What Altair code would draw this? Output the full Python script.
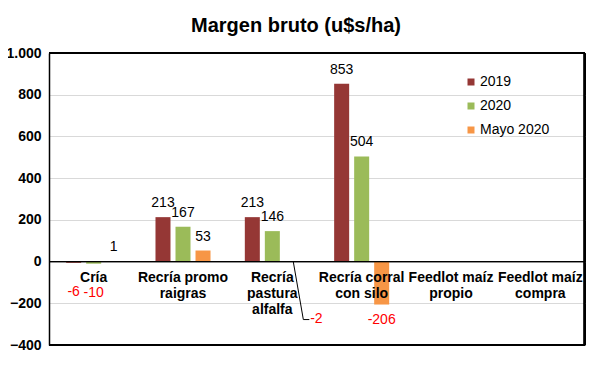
import altair as alt
import pandas as pd

FONT = "Liberation Sans, Arial, Helvetica, sans-serif"

categories = ["Cría", "Recría promo raigras", "Recría pastura alfalfa",
              "Recría corral con silo", "Feedlot maíz propio", "Feedlot maíz compra"]
category_labels = ["Cría", "Recría promo\nraigras", "Recría\npastura\nalfalfa",
                   "Recría corral\ncon silo", "Feedlot maíz\npropio", "Feedlot maíz\ncompra"]
series = ["2019", "2020", "Mayo 2020"]
colors = ["#953735", "#9BBB59", "#F79646"]
v2019 = [-6, 213, 213, 853, None, None]
v2020 = [-10, 167, 146, 504, None, None]
vmayo = [1, 53, -2, -206, None, None]
y_ticks = [-400, -200, 0, 200, 400, 600, 800, 1000]

rows = []
for s, vals in zip(series, [v2019, v2020, vmayo]):
    for c, v in zip(categories, vals):
        if v is not None:
            rows.append({"cat": c, "series": s, "value": v, "txt": str(v)})
df = pd.DataFrame(rows)
labels_df = pd.DataFrame({"cat": categories, "label": category_labels})

xenc = alt.X("cat:N", scale=alt.Scale(domain=categories, paddingInner=0.328, paddingOuter=0.164),
             axis=None)
xoff = alt.XOffset("series:N", scale=alt.Scale(domain=series, paddingInner=0.25, paddingOuter=0.125))
yenc = alt.Y("value:Q",
             scale=alt.Scale(domain=[-400, 1000], nice=False),
             axis=alt.Axis(values=y_ticks, title=None, ticks=False, domain=True,
                           domainColor="black", domainWidth=1.5,
                           labelFont=FONT, labelFontSize=14, labelFontWeight="bold",
                           labelColor="black", labelPadding=8, gridColor="#D9D9D9",
                           labelExpr="datum.value == 1000 ? '1.000' : datum.label"))

bars = alt.Chart(df).mark_bar().encode(
    x=xenc, xOffset=xoff, y=yenc,
    color=alt.Color("series:N", scale=alt.Scale(domain=series, range=colors),
                    legend=alt.Legend(orient="none", legendX=415, legendY=22, title=None,
                                      symbolType="square", symbolSize=49, symbolStrokeWidth=0,
                                      labelFont=FONT, labelFontSize=14, labelColor="black",
                                      rowPadding=10, labelOffset=2, padding=0,
                                      labelExpr="datum.label == 'Mayo 2020' ? ' Mayo 2020' : datum.label")),
)

pos_labels = alt.Chart(df).transform_filter("datum.value >= 0").mark_text(
    font=FONT, fontSize=14, color="black", baseline="alphabetic", dy=-10
).encode(x=xenc, xOffset=xoff, y=alt.Y("value:Q"), text="txt:N")

neg_cria = alt.Chart(df).transform_filter("datum.value < 0 && datum.cat == 'Cría'").mark_text(
    font=FONT, fontSize=14, color="#FF0000", baseline="middle", dy=29
).encode(x=xenc, xOffset=xoff, y=alt.Y("value:Q"), text="txt:N")

neg_silo = alt.Chart(df).transform_filter("datum.value < 0 && datum.cat == 'Recría corral con silo'").mark_text(
    font=FONT, fontSize=14, color="#FF0000", baseline="middle", dy=15
).encode(x=xenc, xOffset=xoff, y=alt.Y("value:Q"), text="txt:N")

neg_alf = alt.Chart(df).transform_filter("datum.value < 0 && datum.cat == 'Recría pastura alfalfa'").mark_text(
    font=FONT, fontSize=14, color="#FF0000", baseline="middle", dy=57, dx=24
).encode(x=xenc, xOffset=xoff, y=alt.Y("value:Q"), text="txt:N")

leader_df = df[(df.cat == "Recría pastura alfalfa") & (df.series == "Mayo 2020")]
leader1 = alt.Chart(leader_df).mark_rule(color="black", strokeWidth=1, xOffset=21, x2Offset=31).encode(
    x=xenc, x2=alt.X2("cat:N"), y=alt.Y("value:Q"), y2=alt.Y2(datum=-278)
)
leader2 = alt.Chart(leader_df).mark_rule(color="black", strokeWidth=1, xOffset=31, x2Offset=37).encode(
    x=xenc, x2=alt.X2("cat:N"), y=alt.Y(datum=-278)
)

zero = alt.Chart(labels_df).mark_rule(color="black", strokeWidth=1).encode(y=alt.Y(datum=0))
top_edge = alt.Chart(labels_df).mark_rule(color="black", strokeWidth=1.5).encode(y=alt.Y(datum=1000))
bottom_edge = alt.Chart(labels_df).mark_rule(color="black", strokeWidth=1.5).encode(y=alt.Y(datum=-400))
right_edge = alt.Chart(labels_df).mark_rule(color="black", strokeWidth=1.5).encode(
    x=alt.value(535.5), y=alt.Y(datum=-400), y2=alt.Y2(datum=1000))

cat_text = alt.Chart(labels_df).mark_text(
    font=FONT, fontSize=14, fontWeight="bold", color="black", baseline="top",
    lineBreak="\n", lineHeight=16, dy=9
).encode(x=xenc, y=alt.Y(datum=0), text="label:N")

chart = alt.layer(bars, zero, top_edge, bottom_edge, right_edge, pos_labels, neg_cria, neg_silo,
                  neg_alf, leader1, leader2, cat_text).properties(
    width=536, height=292,
    autosize=alt.AutoSizeParams(type="none"),
    padding={"left": 41, "top": 45, "right": 3, "bottom": 15},
    title=alt.TitleParams("Margen bruto (u$s/ha)", font=FONT, fontSize=20, fontWeight="bold",
                          color="black", anchor="middle", baseline="alphabetic", offset=-6, dx=-21),
).configure(background="white").configure_view(stroke="black", strokeWidth=1)

chart.save("out.html", embed_options={"renderer": "svg", "actions": False})
